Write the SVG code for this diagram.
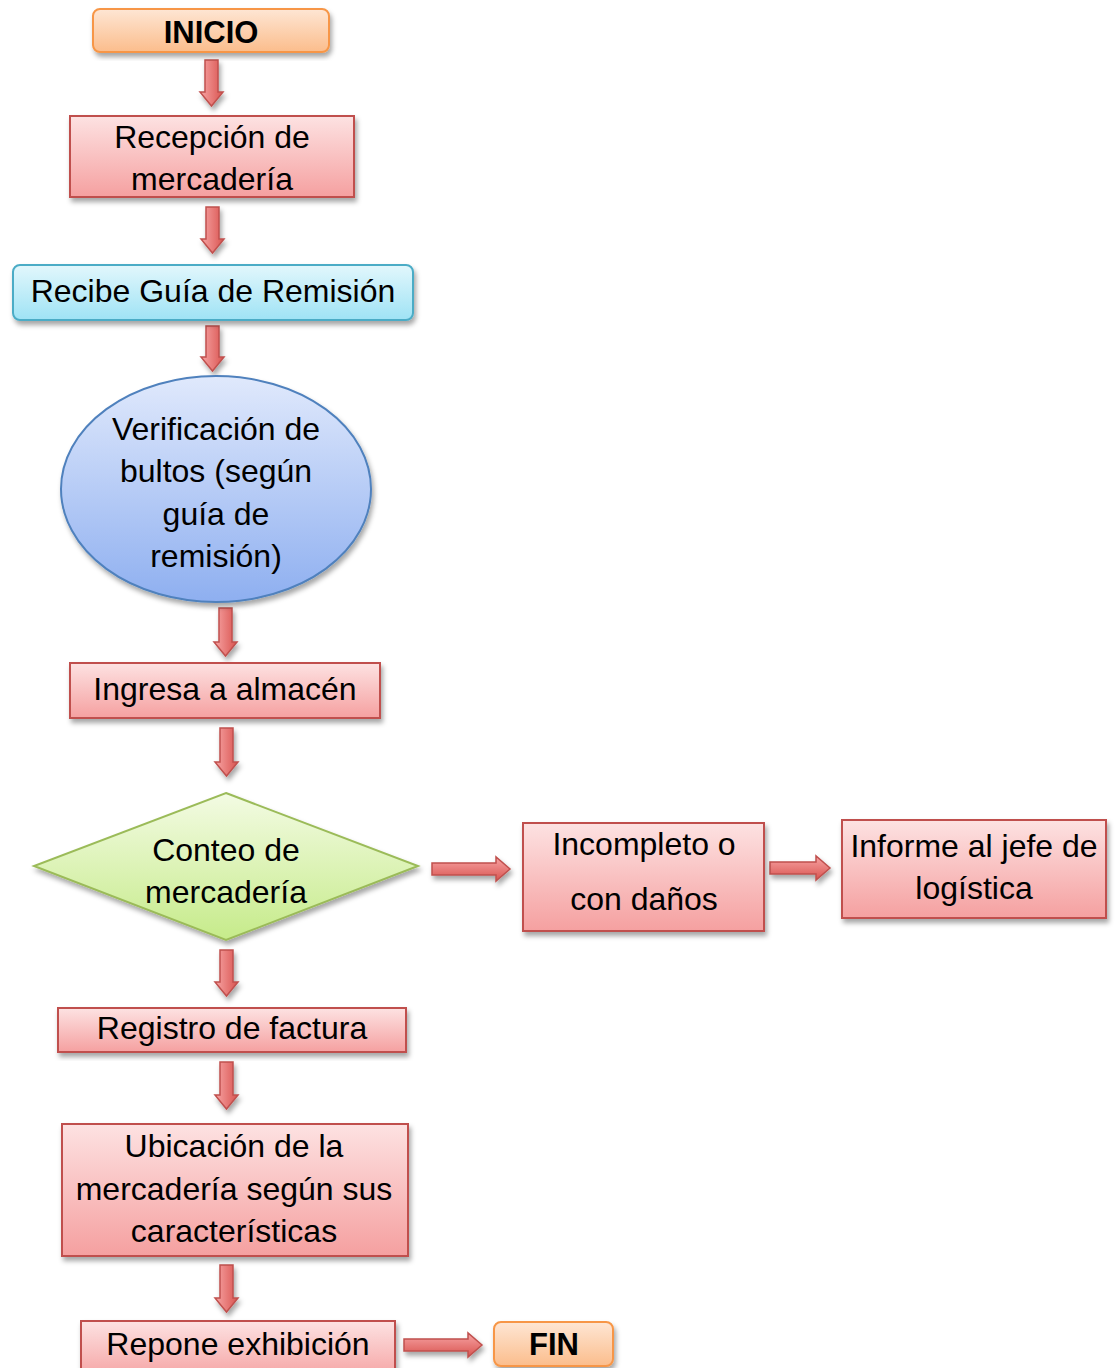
<svg xmlns="http://www.w3.org/2000/svg" width="1116" height="1368" viewBox="0 0 1116 1368">
<defs>
<linearGradient id="gRed" x1="0" y1="0" x2="0" y2="1"><stop offset="0" stop-color="#fde2e2"/><stop offset="1" stop-color="#f5a0a0"/></linearGradient>
<linearGradient id="gCyan" x1="0" y1="0" x2="0" y2="1"><stop offset="0" stop-color="#e2f7fc"/><stop offset="1" stop-color="#9fe3f5"/></linearGradient>
<linearGradient id="gOrange" x1="0" y1="0" x2="0" y2="1"><stop offset="0" stop-color="#fee6d4"/><stop offset="1" stop-color="#fbbd8c"/></linearGradient>
<linearGradient id="gBlue" x1="0" y1="0" x2="0" y2="1"><stop offset="0" stop-color="#e0e9fc"/><stop offset="1" stop-color="#8eaff0"/></linearGradient>
<linearGradient id="gGreen" x1="0" y1="0" x2="0" y2="1"><stop offset="0" stop-color="#f3fbe3"/><stop offset="1" stop-color="#c6eb8a"/></linearGradient>
<linearGradient id="gArrV" x1="0" y1="0" x2="1" y2="0"><stop offset="0" stop-color="#f7a5a5"/><stop offset="1" stop-color="#d9534f"/></linearGradient>
<linearGradient id="gArrH" x1="0" y1="0" x2="0" y2="1"><stop offset="0" stop-color="#f7a5a5"/><stop offset="1" stop-color="#d9534f"/></linearGradient>
<filter id="sh" x="-10%" y="-10%" width="125%" height="130%"><feDropShadow dx="2" dy="4" stdDeviation="2.5" flood-color="#000" flood-opacity="0.35"/></filter>
</defs>
<style>
text{font-family:"Liberation Sans",Arial,sans-serif;font-size:32px;fill:#000;text-anchor:middle}
.b{font-weight:bold;font-size:31px}
.red{fill:url(#gRed);stroke:#c0504d;stroke-width:2}
.cyan{fill:url(#gCyan);stroke:#4bacc6;stroke-width:2}
.org{fill:url(#gOrange);stroke:#f79646;stroke-width:2}
.blue{fill:url(#gBlue);stroke:#4f81bd;stroke-width:2}
.green{fill:url(#gGreen);stroke:#9bbb59;stroke-width:2}
.av{fill:url(#gArrV);stroke:#c0504d;stroke-width:1.5}
.ah{fill:url(#gArrH);stroke:#c0504d;stroke-width:1.5}
</style>
<g id="connectors" filter="url(#sh)">
<path class="av" d="M205 60H218V92H223L211.5 106L200 92H205Z"/>
<path class="av" d="M206 207H219V239H224L212.5 253L201 239H206Z"/>
<path class="av" d="M206 326H219V357H224L212.5 371L201 357H206Z"/>
<path class="av" d="M219 608H232V642H237L225.5 656L214 642H219Z"/>
<path class="av" d="M220 728H233V762H238L226.5 776L215 762H220Z"/>
<path class="ah" d="M432 863H496V857L510 869L496 881V875H432Z"/>
<path class="ah" d="M770 862H816V856L830 868L816 880V874H770Z"/>
<path class="av" d="M220 950H233V982H238L226.5 996L215 982H220Z"/>
<path class="av" d="M220 1062H233V1095H238L226.5 1109L215 1095H220Z"/>
<path class="av" d="M220 1265H233V1298H238L226.5 1312L215 1298H220Z"/>
<path class="ah" d="M404 1339H468V1333L482 1345L468 1357V1351H404Z"/>
</g>
<g id="inicio"><rect class="org" x="93" y="9" width="236" height="43" rx="7" filter="url(#sh)"/><text class="b" x="211" y="43">INICIO</text></g>
<g id="recepcion"><rect class="red" x="70" y="116" width="284" height="81" filter="url(#sh)"/><text x="212" y="148">Recepción de</text><text x="212" y="190">mercadería</text></g>
<g id="recibe"><rect class="cyan" x="13" y="265" width="400" height="55" rx="7" filter="url(#sh)"/><text x="213" y="302">Recibe Guía de Remisión</text></g>
<g id="verificacion"><ellipse class="blue" cx="216" cy="489" rx="155" ry="113" filter="url(#sh)"/><text x="216" y="440">Verificación de</text><text x="216" y="482">bultos (según</text><text x="216" y="525">guía de</text><text x="216" y="567">remisión)</text></g>
<g id="ingresa"><rect class="red" x="70" y="663" width="310" height="55" filter="url(#sh)"/><text x="225" y="700">Ingresa a almacén</text></g>
<g id="conteo"><path class="green" d="M226 793L418 866L226 940L34 866Z" filter="url(#sh)"/><text x="226" y="861">Conteo de</text><text x="226" y="903">mercadería</text></g>
<g id="incompleto"><rect class="red" x="523" y="823" width="241" height="108" filter="url(#sh)"/><text x="644" y="855">Incompleto o</text><text x="644" y="910">con daños</text></g>
<g id="informe"><rect class="red" x="842" y="820" width="264" height="98" filter="url(#sh)"/><text x="974" y="857">Informe al jefe de</text><text x="974" y="899">logística</text></g>
<g id="registro"><rect class="red" x="58" y="1008" width="348" height="44" filter="url(#sh)"/><text x="232" y="1039">Registro de factura</text></g>
<g id="ubicacion"><rect class="red" x="62" y="1124" width="346" height="132" filter="url(#sh)"/><text x="234" y="1157">Ubicación de la</text><text x="234" y="1200">mercadería según sus</text><text x="234" y="1242">características</text></g>
<g id="repone"><rect class="red" x="81" y="1321" width="314" height="60" filter="url(#sh)"/><text x="238" y="1355">Repone exhibición</text></g>
<g id="fin"><rect class="org" x="494" y="1322" width="119" height="44" rx="7" filter="url(#sh)"/><text class="b" x="554" y="1355">FIN</text></g>
</svg>
